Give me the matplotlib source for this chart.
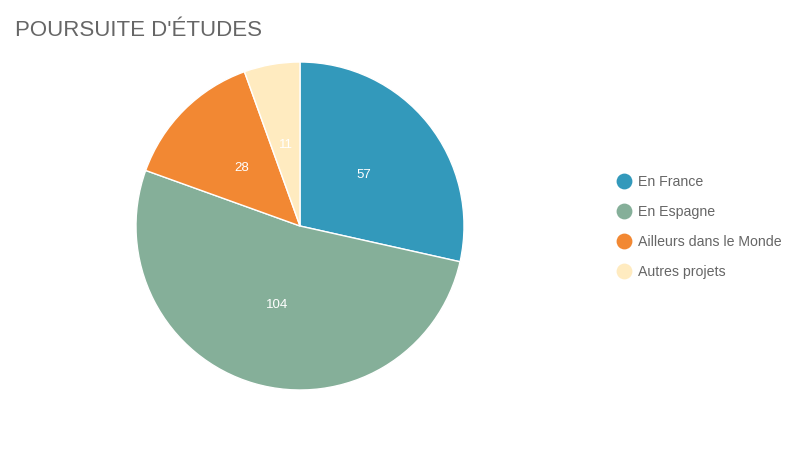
import matplotlib
matplotlib.use("Agg")
import matplotlib.pyplot as plt

categories = ["En France", "En Espagne", "Ailleurs dans le Monde", "Autres projets"]
values = [57, 104, 28, 11]
colors = ["#3399bb", "#85af99", "#f28833", "#ffebc0"]
title = "POURSUITE D'ÉTUDES"

plt.rcParams['font.family'] = ['Liberation Sans', 'DejaVu Sans']

fig = plt.figure(figsize=(8, 4.5), dpi=100)
W, H = 800, 450
cx, cy, r = 300, 226, 164
ax = fig.add_axes([(cx - r) / W, (H - cy - r) / H, 2 * r / W, 2 * r / H])
total = sum(values)
wedges, texts, autotexts = ax.pie(
    values, colors=colors, startangle=90, counterclock=False,
    wedgeprops=dict(edgecolor="white", linewidth=1),
    autopct=lambda p: f"{round(p * total / 100)}", pctdistance=0.5,
    textprops=dict(color="white", fontsize=9.5))
ax.set_xlim(-1, 1)
ax.set_ylim(-1, 1)
ax.set_aspect("equal")
ax.axis("off")

over = fig.add_axes([0, 0, 1, 1], facecolor="none")
over.set_xlim(0, W)
over.set_ylim(H, 0)
over.axis("off")
for i, (c, col) in enumerate(zip(categories, colors)):
    y = 181 + 30 * i
    over.scatter([624], [y], s=130, color=col, linewidths=0)
    over.text(638, y + 1, c, va="center", ha="left", fontsize=10.2, color="#666666")

fig.text(15 / W, 1 - 30 / H, title, fontsize=16, color="#666666", va="center", ha="left")

fig.savefig("out.png", dpi=100)
